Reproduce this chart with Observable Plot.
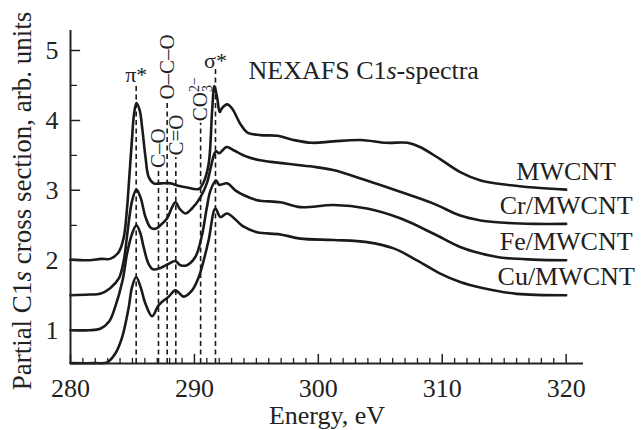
<!DOCTYPE html>
<html>
<head>
<meta charset="utf-8">
<script src="https://cdn.jsdelivr.net/npm/d3@7"></script>
<script src="https://cdn.jsdelivr.net/npm/@observablehq/plot@0.6"></script>
<style>
  body { margin: 0; background: #fff; }
  svg { display: block; }
</style>
</head>
<body>
<div id="chart"></div>
<script>
// ---- Data ----
const seriesNames = ["MWCNT", "Cr/MWCNT", "Fe/MWCNT", "Cu/MWCNT"];

const energyMWCNT = [280.0, 281.5, 282.5, 283.2, 283.9, 284.3, 284.57, 284.75, 284.95, 285.12, 285.32, 285.59, 285.78, 286.05, 286.31, 286.72, 287.3, 288.1, 288.6, 289.4, 290.35, 290.75, 291.15, 291.43, 291.61, 291.83, 292.04, 292.2, 292.64, 293.04, 293.71, 294.25, 295.32, 296.7, 298.0, 299.5, 301.2, 303.4, 305.5, 307.2, 308.2, 309.8, 311.45, 313.1, 314.7, 317.4, 320.0];
const valuesMWCNT = [2.01, 2.00, 2.02, 2.02, 2.12, 2.33, 2.76, 3.20, 3.70, 4.08, 4.25, 4.14, 3.90, 3.48, 3.19, 3.10, 3.10, 3.10, 3.07, 3.04, 3.02, 3.12, 3.38, 4.14, 4.49, 4.33, 4.12, 4.17, 4.23, 4.17, 3.95, 3.83, 3.79, 3.78, 3.72, 3.68, 3.70, 3.72, 3.68, 3.68, 3.62, 3.45, 3.26, 3.14, 3.09, 3.04, 3.01];

const energyCr = [280.0, 281.5, 282.4, 283.2, 283.9, 284.3, 284.6, 284.97, 285.32, 285.65, 286.05, 286.45, 286.85, 287.26, 287.8, 288.2, 288.47, 288.8, 289.27, 289.8, 290.48, 291.0, 291.35, 291.6, 291.75, 292.0, 292.6, 293.2, 294.25, 295.3, 297.5, 299.5, 301.2, 303.9, 306.6, 309.3, 311.45, 313.1, 314.7, 317.4, 320.0];
const valuesCr = [1.50, 1.51, 1.52, 1.60, 1.74, 2.00, 2.40, 2.85, 3.01, 2.90, 2.62, 2.47, 2.45, 2.50, 2.60, 2.76, 2.83, 2.74, 2.67, 2.74, 2.90, 3.10, 3.35, 3.52, 3.56, 3.53, 3.62, 3.57, 3.48, 3.43, 3.38, 3.34, 3.29, 3.14, 2.98, 2.81, 2.64, 2.57, 2.54, 2.52, 2.52];

const energyFe = [280.0, 281.5, 282.4, 283.1, 283.6, 284.2, 284.57, 284.97, 285.32, 285.65, 285.9, 286.3, 286.67, 287.26, 287.93, 288.45, 288.87, 289.4, 290.08, 290.6, 291.0, 291.3, 291.75, 292.0, 292.64, 293.3, 294.0, 295.06, 296.94, 298.55, 301.23, 303.93, 306.61, 309.3, 311.45, 313.06, 314.68, 317.36, 320.0];
const valuesFe = [1.00, 1.00, 1.02, 1.12, 1.33, 1.71, 2.10, 2.38, 2.50, 2.38, 2.19, 1.95, 1.87, 1.89, 1.95, 1.99, 1.93, 1.93, 2.05, 2.35, 2.75, 3.00, 3.14, 3.08, 3.10, 3.00, 2.93, 2.86, 2.83, 2.76, 2.79, 2.74, 2.60, 2.38, 2.19, 2.10, 2.04, 2.01, 2.00];

const energyCu = [280.0, 282.0, 282.96, 283.63, 284.17, 284.7, 284.97, 285.3, 285.65, 286.05, 286.59, 287.12, 287.93, 288.47, 289.14, 289.81, 290.35, 290.75, 291.15, 291.69, 292.1, 292.64, 293.98, 295.06, 296.94, 298.55, 301.23, 303.93, 306.08, 307.96, 309.84, 311.45, 313.33, 316.02, 320.0];
const valuesCu = [0.53, 0.53, 0.54, 0.67, 0.90, 1.33, 1.62, 1.76, 1.62, 1.38, 1.20, 1.36, 1.48, 1.57, 1.48, 1.57, 1.76, 2.00, 2.29, 2.74, 2.62, 2.67, 2.48, 2.40, 2.37, 2.31, 2.29, 2.26, 2.17, 2.00, 1.81, 1.69, 1.60, 1.52, 1.50];

// resonance annotations
const peakNames = ["π*", "σ*"];
const peakEnergy = [285.3, 291.7];
const peakLineTop = [4.53, 4.74];

const bondNames = ["C–O", "O–C–O", "C=O", "CO32−"];
const bondEnergy = [287.1, 287.8, 288.5, 290.5];
const bondLineTop = [3.29, 4.27, 3.47, 3.96];

// axes
const xDomain = [280, 321.4];
const yDomain = [0.524, 5.286];
const xMajorTicks = [280, 290, 300, 310, 320];
const xMinorTicks = d3.range(281, 321).filter(d => d % 10 !== 0);
const yMajorTicks = [1, 2, 3, 4, 5];
const yMinorTicks = [1.5, 2.5, 3.5, 4.5];

const yTitle = "Partial C1s cross section, arb. units";
const xTitle = "Energy, eV";
const chartNote = "NEXAFS C1s-spectra";

// ---- Build tables ----
const series = [
  {name: seriesNames[0], e: energyMWCNT, v: valuesMWCNT},
  {name: seriesNames[1], e: energyCr, v: valuesCr},
  {name: seriesNames[2], e: energyFe, v: valuesFe},
  {name: seriesNames[3], e: energyCu, v: valuesCu}
];
const rows = series.flatMap(s => s.e.map((e, i) => ({series: s.name, e, v: s.v[i]})));
const ends = series.map(s => ({series: s.name, e: s.e[s.e.length - 1], v: s.v[s.v.length - 1]}));
const peaks = peakNames.map((name, i) => ({name, e: peakEnergy[i], top: peakLineTop[i]}));
const bonds = bondNames.map((name, i) => ({name, e: bondEnergy[i], top: bondLineTop[i]}));
const guides = [...peaks, ...bonds];

const FONT = "'Liberation Serif', 'Times New Roman', Times, serif";
const INK = "#1a1a1a";
const AX = "#222";

// inward tick shape for Plot.vector (draws from anchor "upward" in local frame)
const tickShape = {draw(context, l) { context.moveTo(0, 0); context.lineTo(0, -l); }};

const chart = Plot.plot({
  width: 642,
  height: 430,
  marginLeft: 70,
  marginRight: 59,
  marginTop: 30,
  marginBottom: 67,
  x: {domain: xDomain, label: null},
  y: {domain: yDomain, label: null},
  style: {fontFamily: FONT, fontSize: "26px", color: "#222", background: "#fff"},
  marks: [
    Plot.ruleX(guides, {x: "e", y1: yDomain[0], y2: "top", stroke: INK, strokeWidth: 1.6, strokeDasharray: "5,3.5"}),
    Plot.line(rows, {x: "e", y: "v", z: "series", curve: "catmull-rom", stroke: INK, strokeWidth: 2.6}),
    // inward ticks
    Plot.vector(xMajorTicks, {x: d => d, y: yDomain[0], length: 9, rotate: 0, anchor: "start", shape: tickShape, stroke: AX, strokeWidth: 1.5}),
    Plot.vector(xMinorTicks, {x: d => d, y: yDomain[0], length: 5, rotate: 0, anchor: "start", shape: tickShape, stroke: AX, strokeWidth: 1.3}),
    Plot.vector(yMajorTicks, {x: xDomain[0], y: d => d, length: 9, rotate: 90, anchor: "start", shape: tickShape, stroke: AX, strokeWidth: 1.5}),
    Plot.vector(yMinorTicks, {x: xDomain[0], y: d => d, length: 6, rotate: 90, anchor: "start", shape: tickShape, stroke: AX, strokeWidth: 1.3}),
    Plot.ruleX([xDomain[0]], {stroke: AX, strokeWidth: 2}),
    Plot.ruleY([yDomain[0]], {stroke: AX, strokeWidth: 2}),
    Plot.axisX(xMajorTicks, {tickSize: 0, tickPadding: 15, fontSize: 26, label: null, tickFormat: d => String(d)}),
    Plot.axisY(yMajorTicks, {tickSize: 0, tickPadding: 12, fontSize: 26, label: null, tickFormat: d => String(d)}),
    Plot.text([yTitle], {text: d => d, frameAnchor: "left", textAnchor: "middle", lineAnchor: "middle", rotate: -90, dx: -48, dy: 4, fontSize: 27, fill: "#222"}),
    Plot.text([xTitle], {text: d => d, frameAnchor: "bottom", textAnchor: "middle", lineAnchor: "bottom", dy: 60, fontSize: 26, fill: "#222"}),
    Plot.text([chartNote], {text: d => d, frameAnchor: "top-left", dx: 178, dy: 48, textAnchor: "start", lineAnchor: "bottom", fontSize: 26, fill: "#222"}),
    Plot.text(ends, {x: "e", y: "v", text: "series", textAnchor: "middle", lineAnchor: "bottom", dy: -10, fontSize: 26, fill: "#222"}),
    Plot.text(peaks, {x: "e", y: "top", text: "name", lineAnchor: "bottom", dy: -1, fontSize: 22, fill: "#222"}),
    Plot.text(bonds, {x: "e", y: "top", text: "name", rotate: -90, textAnchor: "start", dy: -2, fontSize: 21, fill: "#222"})
  ]
});

// italic "s" and chemical sub/superscripts as real text
d3.select(chart).selectAll("text").each(function () {
  const t = this.textContent;
  if (t === yTitle) {
    this.innerHTML = 'Partial C1<tspan font-style="italic">s</tspan> cross section, arb. units';
  } else if (t === chartNote) {
    this.innerHTML = 'NEXAFS C1<tspan font-style="italic">s</tspan>-spectra';
  } else if (t === "CO32−") {
    this.innerHTML = 'CO<tspan font-size="14" dy="5">3</tspan><tspan font-size="14" dx="-7" dy="-13">2−</tspan>';
  }
});

document.getElementById("chart").appendChild(chart);
</script>
</body>
</html>
